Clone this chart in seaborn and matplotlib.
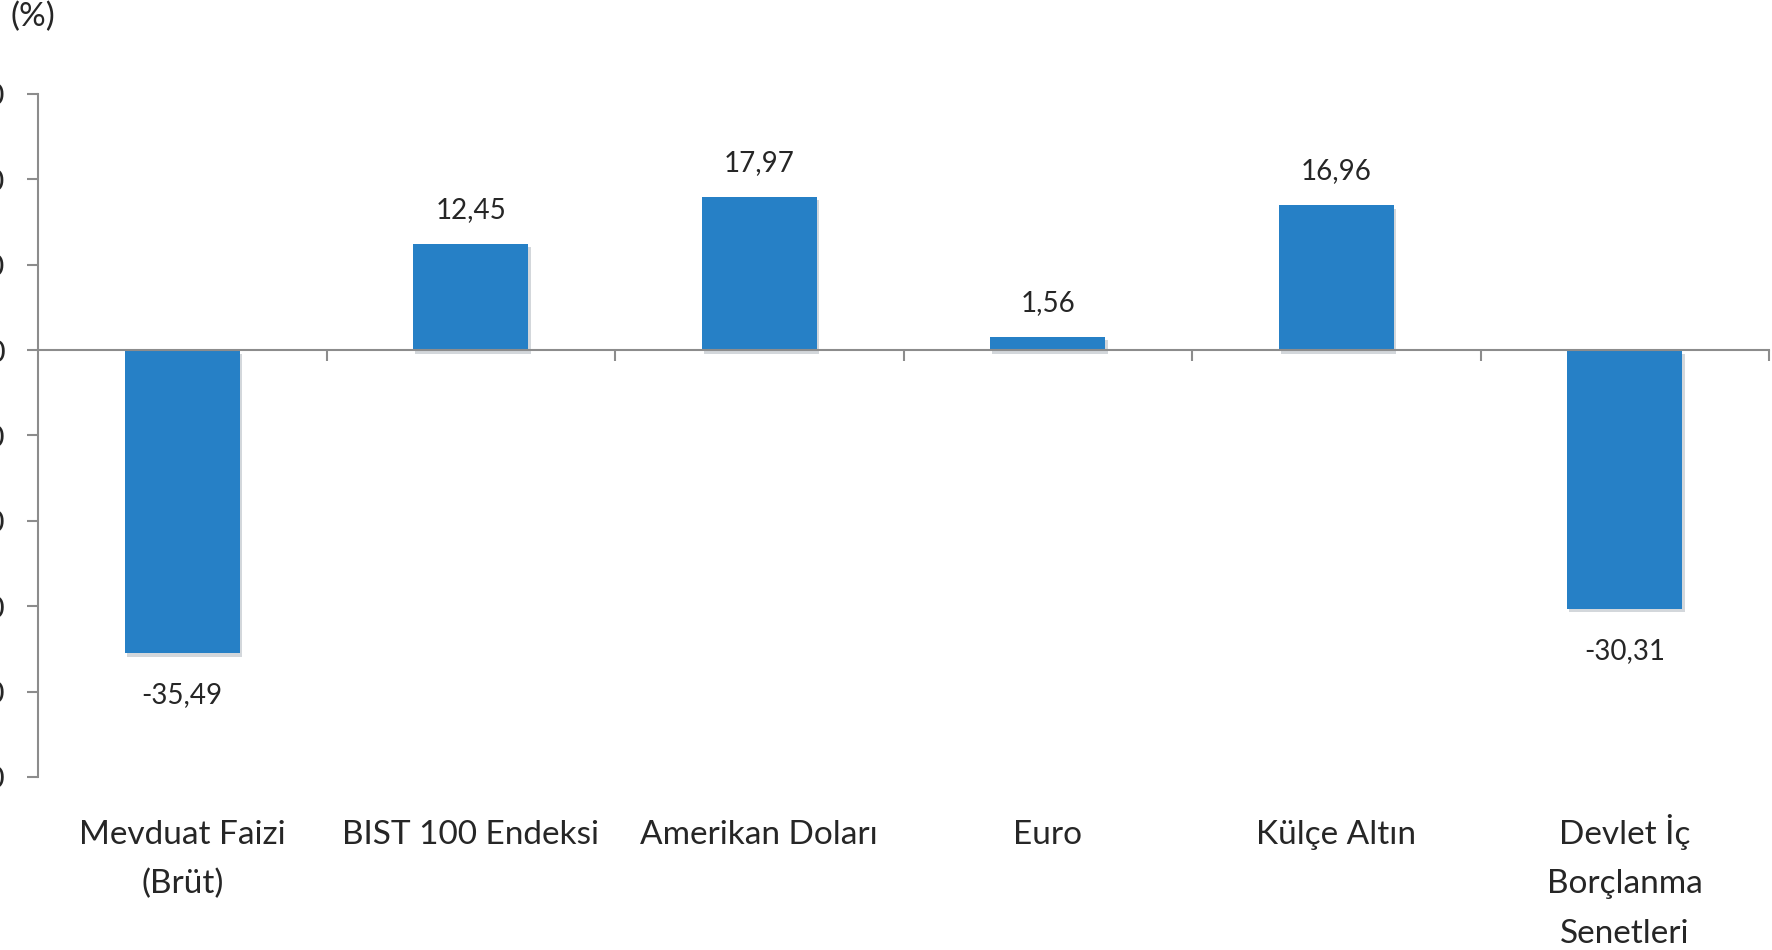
import matplotlib
matplotlib.use("Agg")
import matplotlib.pyplot as plt
import matplotlib.patheffects as pe
import seaborn as sns
import pandas as pd

# Veriler
kategoriler = ["Mevduat Faizi\n(Brüt)", "BIST 100 Endeksi", "Amerikan Doları",
               "Euro", "Külçe Altın", "Devlet İç\nBorçlanma\nSenetleri"]
getiriler = [-35.49, 12.45, 17.97, 1.56, 16.96, -30.31]
y_ticks = [30, 20, 10, 0, -10, -20, -30, -40, -50]

df = pd.DataFrame({"kategori": kategoriler, "getiri": getiriler})

sns.set_style("white")
plt.rcParams["font.family"] = ["Lato", "DejaVu Sans"]

gri = "#8c8c8c"
mavi = "#2680c6"

fig = plt.figure(figsize=(17.72, 9.5), dpi=100)
ax = fig.add_axes([38 / 1772, 1 - 777 / 950, (1769 - 38) / 1772, (777 - 94) / 950])

sns.barplot(data=df, x="kategori", y="getiri", color=mavi, width=0.4,
            saturation=1, ax=ax, edgecolor="none")

# Gölge efekti
for p in ax.patches:
    p.set_path_effects([pe.SimplePatchShadow(offset=(1.5, -2.5), alpha=0.18),
                        pe.Normal()])

ax.set_xlim(-0.5, 5.5)
ax.set_ylim(-50, 30)
ax.set_yticks(y_ticks)
ax.set_yticklabels([str(t) for t in y_ticks], fontsize=22)
ax.tick_params(axis="y", left=True, length=8, width=1.5, color=gri, pad=16,
               direction="out")

# x ekseni sıfır çizgisinde, kategori sınırlarında çentik
ax.spines["bottom"].set_position(("data", 0))
ax.set_xticks([x + 0.5 for x in range(len(kategoriler))])
ax.set_xticklabels([])
ax.tick_params(axis="x", bottom=True, length=8, width=1.5, color=gri,
               direction="out")
ax.spines["top"].set_visible(False)
ax.spines["right"].set_visible(False)
for s in ["left", "bottom"]:
    ax.spines[s].set_color(gri)
    ax.spines[s].set_linewidth(1.5)
ax.set_xlabel("")
ax.set_ylabel("")

# Kategori etiketleri (eksenin altında), her satır ayrı taban çizgisinde
for i, k in enumerate(kategoriler):
    for j, satir in enumerate(k.split("\n")):
        ax.annotate(satir, xy=(i, 0), xycoords=("data", "axes fraction"),
                    xytext=(0, -48 - 35.8 * j), textcoords="offset points",
                    ha="center", va="baseline", fontsize=24)

# Değer etiketleri
for i, v in enumerate(getiriler):
    etiket = f"{v:.2f}".replace(".", ",")
    if v >= 0:
        ax.annotate(etiket, xy=(i, v), xytext=(0, 15), textcoords="offset points",
                    ha="center", va="bottom", fontsize=20)
    else:
        ax.annotate(etiket, xy=(i, v), xytext=(0, -21), textcoords="offset points",
                    ha="center", va="top", fontsize=20)

fig.text(11 / 1772, 1 - 17 / 950, "(%)", fontsize=24, ha="left", va="center")

fig.savefig("out.png", dpi=100)
